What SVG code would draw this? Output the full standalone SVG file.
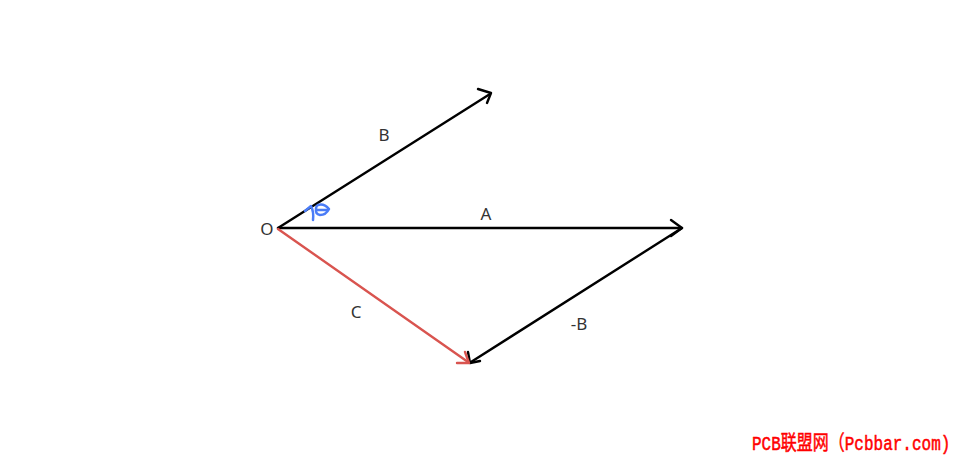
<svg xmlns="http://www.w3.org/2000/svg" width="954" height="458" viewBox="0 0 954 458">
<style>
.v{fill:none;stroke:#000;stroke-width:2.4;stroke-linecap:round;stroke-linejoin:round}
.r{stroke:#d9544f}
.ang{fill:none;stroke:#4a7cf7;stroke-width:2.5;stroke-linecap:round;stroke-linejoin:round}
.lbl{font-family:"Noto Sans","DejaVu Sans",sans-serif;font-size:17px;fill:#333;text-anchor:middle}
.wm{font-family:"Liberation Mono","Noto Sans CJK SC",monospace;font-size:16px;fill:#f00;stroke:#f00;stroke-width:0.4}
</style>
<rect width="954" height="458" fill="#fff"/>
<g id="connectors">
<g id="vecB"><line class="v" x1="278" y1="228" x2="490" y2="94"/><polyline class="v" points="478,89 491,93 487,103"/></g>
<g id="vecA"><line class="v" x1="278" y1="228" x2="681" y2="228"/><polyline class="v" points="671,220 682,228 671,236"/></g>
<g id="vecNegB"><line class="v" x1="682" y1="228" x2="471" y2="362"/><polyline class="v" points="468,352 470,363 480,361"/></g>
<g id="vecC"><line class="v r" x1="278" y1="229" x2="468" y2="362"/><polyline class="v r" points="465,352 469,363 457,363"/></g>
</g>
<g id="angle">
<path class="ang" d="M305,211 L311,206 Q314,212 313,220"/>
<path class="ang" d="M318,205 Q324,203 329,209 Q326,215 320,215 Q315,214 316,209 Q316,206 318,205 Z M317,210 L327,210"/>
</g>
<g id="labels">
<text class="lbl" x="267" y="235">O</text>
<text class="lbl" x="384" y="141">B</text>
<text class="lbl" x="486" y="220">A</text>
<text class="lbl" x="356" y="318">C</text>
<text class="lbl" x="579" y="330">-B</text>
</g>
<g id="watermark">
<text class="wm" transform="translate(752,450) scale(1,1.3)" x="0" y="0">PCB联盟网（Pcbbar.com)</text>
</g>
</svg>
